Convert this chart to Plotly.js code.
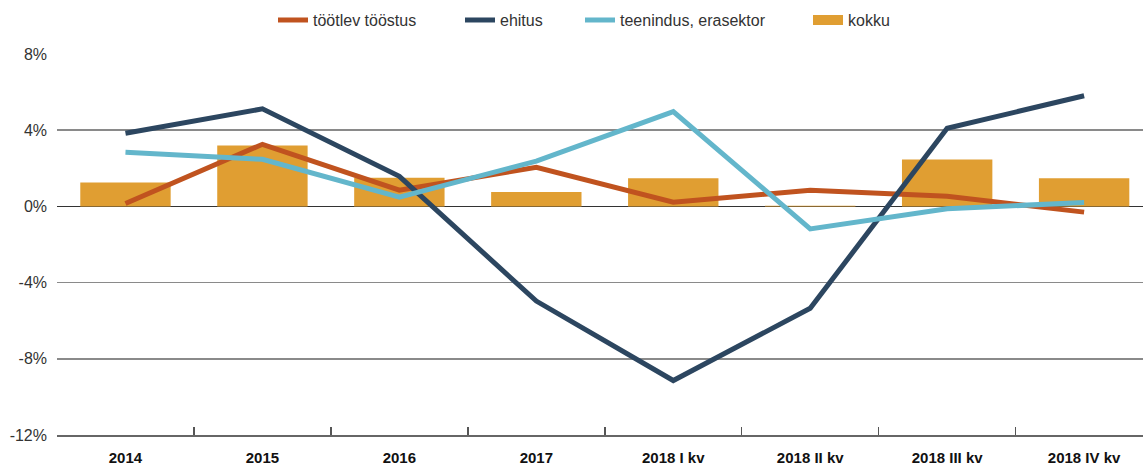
<!DOCTYPE html>
<html>
<head>
<meta charset="utf-8">
<script src="https://cdn.plot.ly/plotly-3.0.1.min.js"></script>
<style>
html,body{margin:0;padding:0;background:#fff;}
#chart{width:1143px;height:466px;}
</style>
</head>
<body>
<div id="chart"></div>
<script>
const categories = ["2014","2015","2016","2017","2018 I kv","2018 II kv","2018 III kv","2018 IV kv"];
const tootlevToostus = [0.15, 3.26, 0.85, 2.05, 0.22, 0.85, 0.53, -0.3];
const ehitus = [3.84, 5.12, 1.58, -4.97, -9.14, -5.35, 4.1, 5.81];
const teenindus = [2.84, 2.47, 0.49, 2.38, 4.98, -1.18, -0.12, 0.2];
const kokku = [1.25, 3.2, 1.5, 0.76, 1.48, 0.04, 2.46, 1.48];
const yTicks = [-12, -8, -4, 0, 4, 8];
const yTickText = yTicks.map(v => String(v) + '%');

const fontFam = '"Liberation Sans", Arial, Helvetica, sans-serif';
const barColor = '#e09e32';

const traces = [
  {type:'scatter', mode:'lines', name:'töötlev tööstus', x:categories, y:tootlevToostus,
   line:{color:'#c0531f', width:5}, legend:'legend'},
  {type:'scatter', mode:'lines', name:'ehitus', x:categories, y:ehitus,
   line:{color:'#2c4660', width:5}, legend:'legend2'},
  {type:'scatter', mode:'lines', name:'teenindus, erasektor', x:categories, y:teenindus,
   line:{color:'#63b6cb', width:5}, legend:'legend3'},
  {type:'bar', name:'kokku', x:categories, y:kokku, width:0.66, showlegend:false,
   marker:{color:barColor}},
  // legend swatch for the bars (wide rectangle)
  {type:'scatter', mode:'lines', name:'kokku', x:[null], y:[null],
   line:{color:barColor, width:11}, hoverinfo:'skip', legend:'legend4'}
];

function leg(px) {
  return {orientation:'h', x:(px - 57) / 1086, xanchor:'left', y:1.089, yanchor:'middle',
          bgcolor:'rgba(0,0,0,0)', borderwidth:0,
          font:{family:fontFam, size:16, color:'#333'}};
}

const layout = {
  width:1143, height:466,
  margin:{l:57, r:0, t:54, b:31, pad:0},
  paper_bgcolor:'#fff', plot_bgcolor:'#fff',
  font:{family:fontFam, size:16, color:'#333'},
  showlegend:true,
  legend:leg(273),
  legend2:leg(460),
  legend3:leg(580),
  legend4:leg(808),
  xaxis:{type:'category', range:[-0.5, 7.43], showgrid:false,
         showline:true, linecolor:'#666', linewidth:2,
         ticks:'inside', tickson:'boundaries', ticklen:8, tickcolor:'#555', tickwidth:1.5,
         ticklabelstandoff:8,
         tickfont:{family:fontFam, size:15, color:'#111', weight:'bold'},
         fixedrange:true},
  yaxis:{range:[-12, 8], tickvals:yTicks, ticktext:yTickText,
         showgrid:true, gridcolor:'#8a8a8a', gridwidth:1.5,
         zeroline:true, zerolinecolor:'#333', zerolinewidth:1.5,
         showline:false, ticks:'', ticklabelstandoff:9,
         tickfont:{family:fontFam, size:16, color:'#333'}, fixedrange:true}
};

Plotly.newPlot('chart', traces, layout, {displayModeBar:false, staticPlot:true});
</script>
</body>
</html>
